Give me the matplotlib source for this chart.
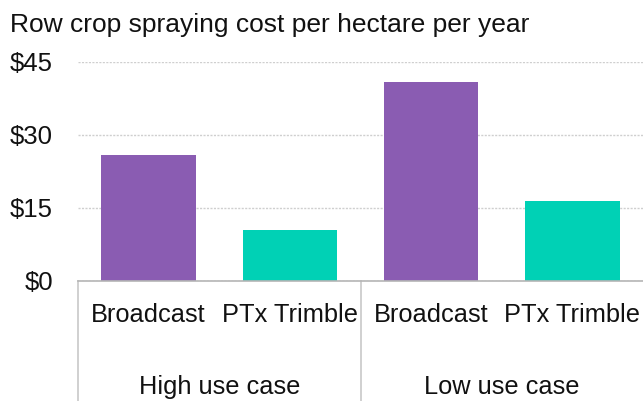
import matplotlib
matplotlib.use("Agg")
import matplotlib.pyplot as plt
import matplotlib.transforms as mtransforms

plt.rcParams['font.family'] = ['Liberation Sans', 'DejaVu Sans']

title = "Row crop spraying cost per hectare per year"
groups = ["High use case", "Low use case"]
methods = ["Broadcast", "PTx Trimble", "Broadcast", "PTx Trimble"]
values = [25.9, 10.5, 40.8, 16.4]
colors = ["#8A5CB2", "#00D1B5", "#8A5CB2", "#00D1B5"]
yticks = [0, 15, 30, 45]
ytick_labels = ["$0", "$15", "$30", "$45"]

W, H = 643, 401
fig = plt.figure(figsize=(W / 100, H / 100), dpi=100)
left, right, top, bottom = 78, 643, 61.7, 281
ax = fig.add_axes([left / W, (H - bottom) / H, (right - left) / W, (bottom - top) / H])

x = list(range(len(values)))
ax.bar(x, values, width=0.67, color=colors, zorder=3)
ax.set_xlim(-0.5, len(values) - 0.5)
ax.set_ylim(0, 45)

for s in ["top", "right", "left"]:
    ax.spines[s].set_visible(False)
ax.spines["bottom"].set_color("#b5b5b5")
ax.spines["bottom"].set_linewidth(1.2)
ax.spines["bottom"].set_zorder(4)

ax.set_yticks(yticks)
ax.set_yticklabels(ytick_labels, fontsize=18.5, color="#111111")
ax.tick_params(axis="y", length=0, pad=18)
ax.set_xticks([])
ax.yaxis.grid(True, linestyle=(0, (1.5, 1)), color="#cfcfcf", linewidth=1.0, zorder=0)
ax.set_axisbelow(True)

trans = mtransforms.blended_transform_factory(ax.transData, ax.transAxes)
axh = bottom - top
for xi, m in zip(x, methods):
    ax.text(xi, -41 / axh, m, transform=trans, ha="center", va="baseline",
            fontsize=18.3, color="#111111")

n_per = len(methods) // len(groups)
for gi, g in enumerate(groups):
    cx = gi * n_per + (n_per - 1) / 2
    ax.text(cx, -113 / axh, g, transform=trans, ha="center", va="baseline",
            fontsize=18.3, color="#111111")

for gi in range(len(groups)):
    sx = gi * n_per - 0.5
    ax.plot([sx, sx], [0, -(H - bottom) / axh], transform=trans, color="#c8c8c8",
            linewidth=1.2, clip_on=False, zorder=2)

fig.text(10 / W, (H - 32) / H, title, ha="left", va="baseline", fontsize=19, color="#111111")

fig.savefig("out.png", dpi=100)
